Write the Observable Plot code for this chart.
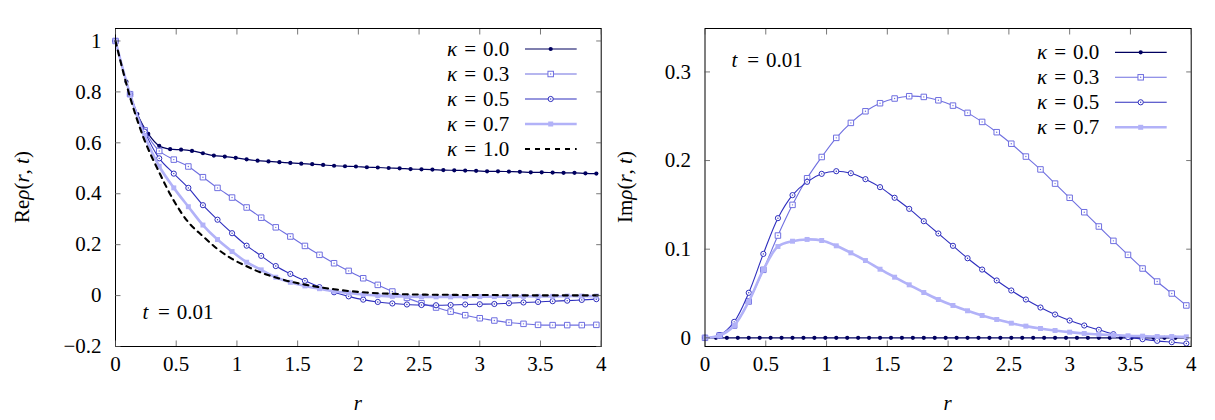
<!DOCTYPE html>
<html>
<head>
<meta charset="utf-8">
<script src="https://cdn.jsdelivr.net/npm/d3@7"></script>
<script src="https://cdn.jsdelivr.net/npm/@observablehq/plot@0.6"></script>
<style>
  body { margin: 0; background: #fff; }
  #fig { position: relative; width: 1215px; height: 420px; background: #fff; }
  #fig svg { position: absolute; top: 0; overflow: visible; }
</style>
</head>
<body>
<div id="fig"></div>
<script>
// Sample grids in r
const rFine = [0, 0.09, 0.18, 0.27, 0.36, 0.45, 0.54, 0.63, 0.72, 0.81, 0.9, 0.99, 1.08, 1.17, 1.26,
  1.35, 1.44, 1.53, 1.62, 1.71, 1.8, 1.89, 1.98, 2.07, 2.16, 2.25, 2.34, 2.43, 2.52, 2.61, 2.7,
  2.79, 2.88, 2.97, 3.06, 3.15, 3.24, 3.33, 3.42, 3.51, 3.6, 3.69, 3.78, 3.87, 3.96];
const rCoarse = [0, 0.12, 0.24, 0.36, 0.48, 0.6, 0.72, 0.84, 0.96, 1.08, 1.2, 1.32, 1.44, 1.56, 1.68,
  1.8, 1.92, 2.04, 2.16, 2.28, 2.4, 2.52, 2.64, 2.76, 2.88, 3.0, 3.12, 3.24, 3.36, 3.48, 3.6,
  3.72, 3.84, 3.96];
const rCurve = [0, 0.12, 0.24, 0.36, 0.48, 0.6, 0.72, 0.84, 0.96, 1.08, 1.2, 1.32, 1.44, 1.56, 1.68,
  1.8, 1.92, 2.04, 2.16, 2.28, 2.4, 2.52, 2.64, 2.76, 2.88, 3.0, 3.12, 3.24, 3.36, 3.48, 3.6,
  3.72, 3.84, 3.96, 4.0];

// Re rho(r, t) at t = 0.01
const reK00 = [1.0, 0.84, 0.713, 0.635, 0.588, 0.575, 0.573, 0.568, 0.559, 0.550, 0.546, 0.541, 0.535,
  0.530, 0.527, 0.524, 0.521, 0.518, 0.516, 0.513, 0.510, 0.508, 0.507, 0.504, 0.503, 0.501, 0.500,
  0.497, 0.496, 0.495, 0.493, 0.492, 0.491, 0.490, 0.488, 0.488, 0.487, 0.486, 0.484, 0.484, 0.483,
  0.482, 0.482, 0.480, 0.479];
const reK03 = [1.0, 0.791, 0.649, 0.568, 0.534, 0.507, 0.465, 0.423, 0.385, 0.346, 0.306, 0.268, 0.232,
  0.195, 0.160, 0.127, 0.097, 0.068, 0.042, 0.016, -0.009, -0.030, -0.047, -0.063, -0.077, -0.089,
  -0.098, -0.106, -0.111, -0.115, -0.116, -0.116, -0.116, -0.115];
const reK05 = [1.0, 0.791, 0.644, 0.539, 0.479, 0.423, 0.355, 0.298, 0.245, 0.196, 0.156, 0.116, 0.085,
  0.058, 0.033, 0.013, -0.003, -0.016, -0.025, -0.031, -0.035, -0.037, -0.038, -0.037, -0.035, -0.034,
  -0.033, -0.030, -0.027, -0.025, -0.022, -0.020, -0.017, -0.014];
const reK07 = [1.0, 0.791, 0.628, 0.508, 0.423, 0.349, 0.277, 0.220, 0.173, 0.131, 0.101, 0.072, 0.052,
  0.038, 0.027, 0.017, 0.010, 0.004, 0.0, -0.003, -0.004, -0.005, -0.005, -0.005, -0.005, -0.004,
  -0.004, -0.004, -0.003, -0.003, -0.003, -0.002, -0.002, -0.002];
const reK10 = [1.0, 0.779, 0.609, 0.484, 0.373, 0.288, 0.233, 0.183, 0.144, 0.115, 0.090, 0.071, 0.055,
  0.043, 0.033, 0.025, 0.018, 0.013, 0.009, 0.007, 0.005, 0.004, 0.003, 0.003, 0.002, 0.002, 0.002,
  0.001, 0.001, 0.001, 0.001, 0.001, 0.001, 0.001, 0.001];

// Im rho(r, t) at t = 0.01
const imK00 = [0, 0, 0, 0, 0, 0, 0, 0, 0, 0, 0, 0, 0, 0, 0, 0, 0, 0, 0, 0, 0, 0, 0, 0, 0, 0, 0, 0, 0,
  0, 0, 0, 0, 0, 0, 0, 0, 0, 0, 0, 0, 0, 0, 0, 0];
const imK03 = [0, 0.0026, 0.0139, 0.041, 0.0767, 0.1154, 0.150, 0.180, 0.204, 0.2256, 0.2425, 0.2556,
  0.2647, 0.270, 0.2726, 0.2718, 0.268, 0.262, 0.2538, 0.2436, 0.232, 0.219, 0.2045, 0.190, 0.174,
  0.158, 0.1417, 0.1256, 0.1094, 0.0936, 0.0782, 0.0635, 0.050, 0.0365];
const imK05 = [0, 0.003, 0.018, 0.0508, 0.0947, 0.135, 0.161, 0.176, 0.185, 0.188, 0.1857, 0.179, 0.170,
  0.158, 0.1455, 0.1316, 0.1177, 0.1038, 0.0898, 0.077, 0.0647, 0.0534, 0.0432, 0.0342, 0.0263, 0.0195,
  0.0139, 0.009, 0.0041, 0.0008, -0.0015, -0.0034, -0.0049, -0.0064];
const imK07 = [0, 0.0026, 0.0139, 0.041, 0.0767, 0.103, 0.109, 0.111, 0.1098, 0.1038, 0.0959, 0.0872,
  0.0774, 0.0684, 0.0598, 0.0511, 0.0432, 0.0365, 0.0305, 0.0252, 0.0207, 0.0165, 0.0132, 0.0105,
  0.0083, 0.0064, 0.0049, 0.0038, 0.003, 0.0023, 0.0019, 0.0015, 0.0015, 0.0011];

// Tick values
const xTicks = [0, 0.5, 1, 1.5, 2, 2.5, 3, 3.5, 4];
const reTicks = [-0.2, 0, 0.2, 0.4, 0.6, 0.8, 1];
const imTicks = [0, 0.1, 0.2, 0.3];

const kappaKeys = ["k00", "k03", "k05", "k07", "k10"];
const kappaLabels = ["0.0", "0.3", "0.5", "0.7", "1.0"];
const timeLabel = "0.01";

const FONT = "'Liberation Serif', 'DejaVu Serif', serif";
const FS = 21;
const colors = { k00: "#00005f", k03: "#6f6fe0", k05: "#2e2ebe", k07: "#b2b2f8", k10: "#000000" };

const table = (rs, vs) => rs.map((r, i) => ({ r, v: vs[i] }));
const fmt = d => (d < 0 ? "\u2212" + String(-d) : String(d));

// Series styles (line + marker)
const styles = {
  k00: { stroke: colors.k00, width: 1.2, marker: "dotFilled" },
  k03: { stroke: colors.k03, width: 1.1, marker: "squareOpen" },
  k05: { stroke: colors.k05, width: 1.1, marker: "circleOpen" },
  k07: { stroke: colors.k07, width: 2.6, marker: "squareFilled" },
  k10: { stroke: colors.k10, width: 2.1, marker: null, dash: "5,5" }
};

function seriesMarks(data, st) {
  const marks = [Plot.line(data, { x: "r", y: "v", stroke: st.stroke, strokeWidth: st.width,
    strokeDasharray: st.dash, curve: "catmull-rom" })];
  if (st.marker === "dotFilled") {
    marks.push(Plot.dot(data, { x: "r", y: "v", r: 2.1, fill: st.stroke, stroke: null }));
  } else if (st.marker === "squareOpen") {
    marks.push(Plot.dot(data, { x: "r", y: "v", symbol: "square", r: 3.1, fill: "#fff", stroke: st.stroke, strokeWidth: 1 }));
    marks.push(Plot.dot(data, { x: "r", y: "v", r: 0.7, fill: st.stroke, stroke: null }));
  } else if (st.marker === "circleOpen") {
    marks.push(Plot.dot(data, { x: "r", y: "v", r: 2.6, fill: "#fff", stroke: st.stroke, strokeWidth: 1 }));
    marks.push(Plot.dot(data, { x: "r", y: "v", r: 0.7, fill: st.stroke, stroke: null }));
  } else if (st.marker === "squareFilled") {
    marks.push(Plot.dot(data, { x: "r", y: "v", symbol: "square", r: 2.8, fill: st.stroke, stroke: null }));
  }
  return marks;
}

// Inward ticks on all four sides, plus tick labels on the bottom and left
function frameTicks(yt) {
  const T = 5.5;
  const tk = { tickSize: T, tickFormat: () => "", label: null, stroke: "#555", strokeWidth: 0.8 };
  return [
    Plot.axisX(xTicks, { anchor: "bottom", dy: -T, ...tk }),
    Plot.axisX(xTicks, { anchor: "top", dy: T, ...tk }),
    Plot.axisY(yt, { anchor: "left", dx: T, ...tk }),
    Plot.axisY(yt, { anchor: "right", dx: -T, ...tk }),
    Plot.axisX(xTicks, { anchor: "bottom", tickSize: 0, tickPadding: 10, tickFormat: fmt, label: null, fontSize: FS }),
    Plot.axisY(yt, { anchor: "left", tickSize: 0, tickPadding: 14, tickFormat: fmt, label: null, fontSize: FS })
  ];
}

function makePanel({ width, marginLeft, marginRight, yDomain, yTicks, series }) {
  return Plot.plot({
    width, height: 420,
    marginLeft, marginRight, marginTop: 28, marginBottom: 74,
    x: { domain: [0, 4] },
    y: { domain: yDomain },
    style: { fontFamily: FONT, fontSize: FS + "px", color: "#000", background: "transparent" },
    marks: [
      ...series.flatMap(([data, key]) => seriesMarks(data, styles[key])),
      Plot.frame({ stroke: "#000", strokeWidth: 1 }),
      ...frameTicks(yTicks)
    ]
  });
}

function txt(g, x, y, s, anchor, italic) {
  return g.append("text").attr("x", x).attr("y", y).attr("text-anchor", anchor)
    .attr("font-family", FONT).attr("font-size", FS).attr("fill", "#000")
    .attr("font-style", italic ? "italic" : "normal").text(s);
}

// Rich text helper: parts = [[text, italic?], ...]
function richText(g, x, y, parts, anchor, transform) {
  const t = g.append("text").attr("x", x).attr("y", y).attr("text-anchor", anchor)
    .attr("font-family", FONT).attr("font-size", FS).attr("fill", "#000");
  if (transform) t.attr("transform", transform);
  for (const [s, it] of parts) t.append("tspan").attr("font-style", it ? "italic" : "normal").text(s);
  return t;
}

// "sym = value" with the value right-aligned at xRight
function eqRight(g, xRight, yBase, sym, value) {
  const v = txt(g, xRight, yBase, value, "end", false);
  const w = v.node().getComputedTextLength();
  const eqX = xRight - w - 13;
  txt(g, eqX, yBase, "=", "middle", false);
  txt(g, eqX - 18, yBase, sym, "middle", true);
}

// "sym = value" starting from a symbol centered at xSym
function eqLeft(g, xSym, yBase, sym, value) {
  txt(g, xSym, yBase, sym, "middle", true);
  txt(g, xSym + 18.7, yBase, "=", "middle", false);
  txt(g, xSym + 31.5, yBase, value, "start", false);
}

function addLegend(svg, keys, { frameRight, rowY0 }) {
  const g = d3.select(svg).append("g");
  keys.forEach((key, k) => {
    const st = styles[key];
    const y = rowY0 + 25 * k;
    eqRight(g, frameRight - 91.4, y + 7, "\u03ba", kappaLabels[kappaKeys.indexOf(key)]);
    g.append("line").attr("x1", frameRight - 75.7).attr("x2", frameRight - 24)
      .attr("y1", y).attr("y2", y).attr("stroke", st.stroke).attr("stroke-width", st.width)
      .attr("stroke-dasharray", st.dash || null);
    const mx = frameRight - 50;
    if (st.marker === "dotFilled") {
      g.append("circle").attr("cx", mx).attr("cy", y).attr("r", 2.1).attr("fill", st.stroke);
    } else if (st.marker === "squareOpen") {
      g.append("rect").attr("x", mx - 2.75).attr("y", y - 2.75).attr("width", 5.5).attr("height", 5.5)
        .attr("fill", "#fff").attr("stroke", st.stroke);
      g.append("circle").attr("cx", mx).attr("cy", y).attr("r", 0.7).attr("fill", st.stroke);
    } else if (st.marker === "circleOpen") {
      g.append("circle").attr("cx", mx).attr("cy", y).attr("r", 2.6).attr("fill", "#fff").attr("stroke", st.stroke);
      g.append("circle").attr("cx", mx).attr("cy", y).attr("r", 0.7).attr("fill", st.stroke);
    } else if (st.marker === "squareFilled") {
      g.append("rect").attr("x", mx - 2.5).attr("y", y - 2.5).attr("width", 5).attr("height", 5).attr("fill", st.stroke);
    }
  });
}

const fig = document.getElementById("fig");

// Left panel: real part
const leftW = 610;
const left = makePanel({
  width: leftW, marginLeft: 115, marginRight: 9.3,
  yDomain: [-0.2, 1.049], yTicks: reTicks,
  series: [
    [table(rFine, reK00), "k00"],
    [table(rCoarse, reK03), "k03"],
    [table(rCoarse, reK05), "k05"],
    [table(rCoarse, reK07), "k07"],
    [table(rCurve, reK10), "k10"]
  ]
});
left.style.left = "0px";
fig.appendChild(left);
{
  const g = d3.select(left).append("g");
  const frameL = 115, frameR = leftW - 9.3;
  addLegend(left, kappaKeys, { frameRight: frameR, rowY0: 49 });
  eqLeft(g, frameL + 30.3, 319, "t", timeLabel);
  richText(g, (frameL + frameR) / 2, 410, [["r", true]], "middle");
  richText(g, 0, 0, [["Re", false], ["\u03c1", true], ["(", false], ["r", true], [", ", false], ["t", true], [")", false]],
    "middle", "translate(29,187) rotate(-90)");
}

// Right panel: imaginary part
const rightX = 610, rightW = 605;
const right = makePanel({
  width: rightW, marginLeft: 94.5, marginRight: 24.3,
  yDomain: [-0.0098, 0.349], yTicks: imTicks,
  series: [
    [table(rFine, imK00), "k00"],
    [table(rCoarse, imK03), "k03"],
    [table(rCoarse, imK05), "k05"],
    [table(rCoarse, imK07), "k07"]
  ]
});
right.style.left = rightX + "px";
fig.appendChild(right);
{
  const g = d3.select(right).append("g");
  const frameL = 94.5, frameR = rightW - 24.3;
  addLegend(right, kappaKeys.slice(0, 4), { frameRight: frameR, rowY0: 52.3 });
  eqLeft(g, frameL + 30, 67, "t", timeLabel);
  richText(g, (frameL + frameR) / 2, 410, [["r", true]], "middle");
  richText(g, 0, 0, [["Im", false], ["\u03c1", true], ["(", false], ["r", true], [", ", false], ["t", true], [")", false]],
    "middle", "translate(22,187) rotate(-90)");
}
</script>
</body>
</html>
